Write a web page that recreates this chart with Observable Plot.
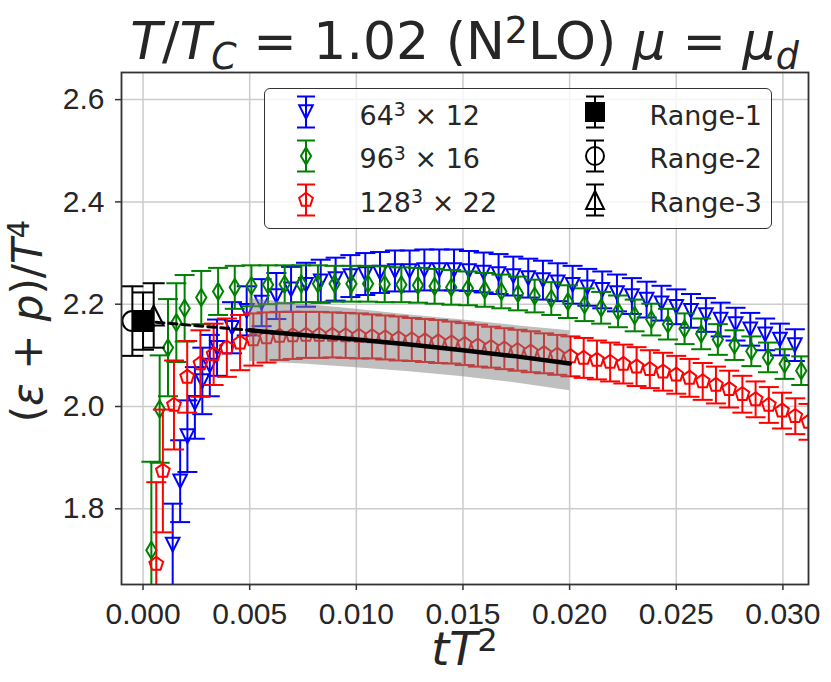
<!DOCTYPE html>
<html>
<head>
<meta charset="utf-8">
<script src="https://cdn.jsdelivr.net/npm/d3@7"></script>
<script src="https://cdn.jsdelivr.net/npm/@observablehq/plot@0.6"></script>
<style>
  html, body { margin: 0; padding: 0; background: white; }
  #fig { position: relative; width: 831px; height: 682px; font-family: "DejaVu Sans", sans-serif; color: #262626; overflow: hidden; }
  sup { font-size: 0.7em; vertical-align: baseline; position: relative; top: -0.45em; }
  sub { font-size: 0.7em; vertical-align: baseline; position: relative; top: 0.28em; }
  #title { position: absolute; top: 15px; left: 121px; width: 687px; text-align: center; font-size: 52px; line-height: 52px; white-space: nowrap; }
  #xlab { position: absolute; top: 631px; left: 121px; width: 687px; text-align: center; font-size: 46px; line-height: 36px; }
  #ylab { position: absolute; left: 30px; top: 321px; transform: translate(-50%, -50%) rotate(-90deg); font-size: 42px; line-height: 40px; white-space: nowrap; }
  #chart { position: absolute; top: 70px; left: 0; }
  #legend { position: absolute; left: 264px; top: 88px; width: 508px; height: 141px; border: 1.5px solid #333; border-radius: 6px; background: rgba(255,255,255,0.8); box-sizing: border-box; }
  .lt { position: absolute; font-size: 27px; line-height: 27px; white-space: nowrap; color: #262626; }
  .sw { position: absolute; width: 40px; height: 40px; }
</style>
</head>
<body>
<div id="fig">
  <div id="chart"></div>
  <div id="title"><i>T</i>/<i>T</i><sub><i>C</i></sub> = 1.02 (N<sup>2</sup>LO) <i>μ</i> = <i>μ</i><sub><i>d</i></sub></div>
  <div id="ylab">(<i>ε</i> + <i>p</i>)/<i>T</i><sup>4</sup></div>
  <div id="xlab"><i>tT</i><sup>2</sup></div>
  <div id="legend"></div>
</div>
<script>
// ---------------- data ----------------
const xTicks = [0, 0.005, 0.01, 0.015, 0.02, 0.025, 0.03];
const yTicks = [1.8, 2.0, 2.2, 2.4, 2.6];

// 64^3 x 12
const x64 = [0.00139,0.00174,0.00208,0.00243,0.00278,0.00313,0.00347,0.00417,0.00486,0.00556,0.00625,0.00694,0.00764,0.00833,0.00903,0.00972,0.01042,0.01111,0.01181,0.0125,0.01319,0.01389,0.01458,0.01528,0.01597,0.01667,0.01736,0.01806,0.01875,0.01944,0.02014,0.02083,0.02153,0.02222,0.02292,0.02361,0.02431,0.025,0.02569,0.02639,0.02708,0.02778,0.02847,0.02917,0.02986,0.03056];
const y64 = [1.730,1.854,1.942,2.007,2.050,2.080,2.115,2.154,2.187,2.203,2.216,2.229,2.238,2.245,2.249,2.255,2.259,2.262,2.265,2.265,2.267,2.267,2.267,2.265,2.262,2.259,2.255,2.251,2.247,2.243,2.238,2.233,2.228,2.222,2.216,2.209,2.202,2.195,2.187,2.179,2.170,2.161,2.151,2.141,2.131,2.120];
const e64 = [0.08,0.08,0.07,0.07,0.065,0.06,0.055,0.05,0.048,0.046,0.045,0.044,0.043,0.042,0.042,0.041,0.041,0.04,0.04,0.04,0.04,0.04,0.04,0.039,0.039,0.039,0.038,0.038,0.038,0.037,0.037,0.036,0.036,0.036,0.035,0.035,0.034,0.034,0.033,0.033,0.033,0.032,0.032,0.031,0.031,0.031];

// 96^3 x 16
const x96 = [0.00039,0.00078,0.00117,0.00156,0.00195,0.00273,0.00352,0.0043,0.00508,0.00586,0.00664,0.00742,0.0082,0.00898,0.00977,0.01055,0.01133,0.01211,0.01289,0.01367,0.01445,0.01523,0.01602,0.0168,0.01758,0.01836,0.01914,0.01992,0.0207,0.02148,0.02227,0.02305,0.02383,0.02461,0.02539,0.02617,0.02695,0.02773,0.02852,0.0293,0.03008,0.03086];
const y96 = [1.719,1.995,2.115,2.164,2.192,2.213,2.225,2.233,2.236,2.238,2.239,2.240,2.240,2.240,2.240,2.240,2.239,2.238,2.237,2.235,2.233,2.231,2.228,2.225,2.221,2.216,2.211,2.205,2.199,2.193,2.186,2.178,2.170,2.161,2.152,2.142,2.131,2.120,2.108,2.096,2.083,2.070];
const e96 = [0.173,0.105,0.095,0.077,0.065,0.052,0.046,0.042,0.04,0.038,0.037,0.036,0.036,0.035,0.035,0.035,0.035,0.034,0.034,0.034,0.034,0.033,0.033,0.033,0.033,0.032,0.032,0.032,0.032,0.031,0.031,0.031,0.031,0.03,0.03,0.03,0.03,0.029,0.029,0.029,0.029,0.028];

// 128^3 x 22
const x128 = [0.00062,0.00093,0.00145,0.00207,0.00269,0.00331,0.00393,0.00455,0.00517,0.00579,0.0064,0.00702,0.00764,0.00826,0.00888,0.0095,0.01012,0.01074,0.01136,0.01198,0.0126,0.01322,0.01384,0.01446,0.01508,0.0157,0.01632,0.01694,0.01756,0.01818,0.0188,0.01942,0.02004,0.02066,0.02128,0.0219,0.02252,0.02314,0.02376,0.02438,0.025,0.02562,0.02624,0.02686,0.02748,0.0281,0.02872,0.02934,0.02996,0.03058,0.0312];
const y128 = [1.692,1.874,2.003,2.058,2.084,2.102,2.115,2.125,2.131,2.135,2.138,2.139,2.140,2.140,2.140,2.139,2.138,2.137,2.135,2.133,2.131,2.129,2.127,2.125,2.122,2.119,2.116,2.113,2.110,2.107,2.104,2.101,2.098,2.095,2.091,2.087,2.083,2.078,2.073,2.068,2.062,2.056,2.049,2.042,2.034,2.024,2.014,2.003,1.992,1.981,1.970];
const e128 = [0.16,0.12,0.087,0.07,0.065,0.06,0.057,0.054,0.051,0.049,0.047,0.046,0.045,0.045,0.044,0.044,0.044,0.043,0.043,0.043,0.042,0.042,0.042,0.041,0.041,0.041,0.04,0.04,0.04,0.04,0.039,0.039,0.039,0.039,0.038,0.038,0.038,0.038,0.037,0.037,0.037,0.037,0.036,0.036,0.036,0.036,0.035,0.035,0.035,0.035,0.035];

// continuum-extrapolation fit and its band
const fitX = [0, 0.0025, 0.005, 0.0075, 0.01, 0.0125, 0.015, 0.0175, 0.02];
const fitY = [2.167, 2.158, 2.149, 2.140, 2.131, 2.121, 2.110, 2.098, 2.084];
const bandX = [0.005, 0.0075, 0.01, 0.0125, 0.015, 0.0175, 0.02];
const bandLo = [2.088, 2.083, 2.076, 2.068, 2.058, 2.046, 2.031];
const bandHi = [2.211, 2.200, 2.190, 2.179, 2.169, 2.158, 2.148];

// extrapolated values at tT^2 = 0
const rangeNames = ["Range-1", "Range-2", "Range-3"];
const rangeX = [0, -0.0005, 0.0005];
const rangeY = [2.167, 2.167, 2.178];
const rangeErr = [0.056, 0.068, 0.063];

// ---------------- symbols ----------------
const R = s => Math.sqrt(s / Math.PI);
const triDown = { draw(c, s) { const r = R(s); c.moveTo(-r, -r); c.lineTo(r, -r); c.lineTo(0, r); c.closePath(); } };
const triUp = { draw(c, s) { const r = R(s); c.moveTo(0, -r); c.lineTo(r, r); c.lineTo(-r, r); c.closePath(); } };
const thinDiamond = { draw(c, s) { const r = R(s); c.moveTo(0, -r); c.lineTo(0.6 * r, 0); c.lineTo(0, r); c.lineTo(-0.6 * r, 0); c.closePath(); } };
const pentagon = { draw(c, s) { const r = R(s); for (let k = 0; k < 5; k++) { const a = -Math.PI / 2 + k * 2 * Math.PI / 5; const px = r * Math.cos(a), py = r * Math.sin(a); k ? c.lineTo(px, py) : c.moveTo(px, py); } c.closePath(); } };
const square = { draw(c, s) { const r = R(s); c.rect(-r, -r, 2 * r, 2 * r); } };
const circle = { draw(c, s) { const r = R(s); c.moveTo(r, 0); c.arc(0, 0, r, 0, 2 * Math.PI); } };
const cap = { draw(c, s) { const r = R(s); c.moveTo(-r, 0); c.lineTo(r, 0); } };

function rows(xs, ys, es) { return xs.map((x, i) => ({ x, y: ys[i], lo: ys[i] - es[i], hi: ys[i] + es[i] })); }

function errMarks(data, color, sym, r, capR, fill) {
  return [
    Plot.ruleX(data, { x: "x", y1: "lo", y2: "hi", stroke: color, strokeWidth: 2, clip: true }),
    Plot.dot(data, { x: "x", y: "hi", symbol: cap, r: capR, stroke: color, strokeWidth: 2, fill: "none", clip: true }),
    Plot.dot(data, { x: "x", y: "lo", symbol: cap, r: capR, stroke: color, strokeWidth: 2, fill: "none", clip: true }),
    Plot.dot(data, { x: "x", y: "y", symbol: sym, r, stroke: color, strokeWidth: 2, fill: fill || "none", clip: true })
  ];
}

const d64 = rows(x64, y64, e64);
const d96 = rows(x96, y96, e96);
const d128 = rows(x128, y128, e128);
const band = bandX.map((x, i) => ({ x, lo: bandLo[i], hi: bandHi[i] }));
const fit = fitX.map((x, i) => ({ x, y: fitY[i] }));
const ranges = rangeNames.map((n, i) => [{ x: rangeX[i], y: rangeY[i], lo: rangeY[i] - rangeErr[i], hi: rangeY[i] + rangeErr[i] }]);

const chart = Plot.plot({
  width: 831,
  height: 612,
  marginTop: 2,
  marginLeft: 121,
  marginRight: 23,
  marginBottom: 98,
  x: { domain: [-0.00101, 0.0312] },
  y: { domain: [1.652, 2.653] },
  style: { fontFamily: "Liberation Sans, Arial, sans-serif", fontSize: "30px", color: "#262626", background: "white", overflow: "visible" },
  marks: [
    Plot.gridX(xTicks, { stroke: "#cccccc", strokeOpacity: 1, strokeWidth: 1.5 }),
    Plot.gridY(yTicks, { stroke: "#cccccc", strokeOpacity: 1, strokeWidth: 1.5 }),
    ...errMarks(d64, "#0000ff", triDown, 6.8, 10),
    ...errMarks(d96, "#008000", thinDiamond, 8.5, 10),
    ...errMarks(d128, "#ff0000", pentagon, 7.2, 10),
    Plot.areaY(band, { x: "x", y1: "lo", y2: "hi", fill: "gray", fillOpacity: 0.5 }),
    Plot.line(fit.filter(d => d.x <= 0.005), { x: "x", y: "y", stroke: "black", strokeWidth: 3, strokeDasharray: "8,5" }),
    Plot.line(fit.filter(d => d.x >= 0.005), { x: "x", y: "y", stroke: "black", strokeWidth: 4.5 }),
    ...errMarks(ranges[1], "black", circle, 10, 11),
    ...errMarks(ranges[2], "black", triUp, 10, 11),
    ...errMarks(ranges[0], "black", square, 10, 11, "black"),
    Plot.frame({ stroke: "#333", strokeWidth: 1.8 }),
    Plot.axisX(xTicks, { tickFormat: ".3f", tickSize: 6, tickPadding: 12, label: null, stroke: "#333", strokeWidth: 1.5 }),
    Plot.axisY(yTicks, { tickFormat: ".1f", tickSize: 6, tickPadding: 11, label: null, stroke: "#333", strokeWidth: 1.5 })
  ]
});
document.getElementById("chart").appendChild(chart);

// ---------------- legend ----------------
function swatchSVG(sym, color, r, fill) {
  const path = d3.path();
  sym.draw(path, Math.PI * r * r);
  return `<svg class="sw" viewBox="-20 -20 40 40" width="40" height="40">
    <line x1="0" y1="-15.5" x2="0" y2="15.5" stroke="${color}" stroke-width="2"/>
    <line x1="-9" y1="-15.5" x2="9" y2="-15.5" stroke="${color}" stroke-width="2"/>
    <line x1="-9" y1="15.5" x2="9" y2="15.5" stroke="${color}" stroke-width="2"/>
    <path d="${path.toString()}" stroke="${color}" stroke-width="2" fill="${fill || 'none'}"/>
  </svg>`;
}
const legendItems = [
  { col: 0, row: 0, html: "64<sup>3</sup> × 12", sym: triDown, color: "#0000ff", r: 6.8 },
  { col: 0, row: 1, html: "96<sup>3</sup> × 16", sym: thinDiamond, color: "#008000", r: 8.5 },
  { col: 0, row: 2, html: "128<sup>3</sup> × 22", sym: pentagon, color: "#ff0000", r: 7.2 },
  { col: 1, row: 0, html: rangeNames[0], sym: square, color: "black", r: 9, fill: "black" },
  { col: 1, row: 1, html: rangeNames[1], sym: circle, color: "black", r: 9 },
  { col: 1, row: 2, html: rangeNames[2], sym: triUp, color: "black", r: 9 }
];
const leg = document.getElementById("legend");
const rowCenter = [24.3, 68.5, 112];
const rowBase = [37, 80.5, 124];
const swX = [42, 331], txX = [96, 386];
for (const it of legendItems) {
  const w = document.createElement("div");
  w.innerHTML = swatchSVG(it.sym, it.color, it.r, it.fill);
  const s = w.firstElementChild;
  s.style.left = (swX[it.col] - 20 - 1.5) + "px";
  s.style.top = (rowCenter[it.row] - 20 - 1.5) + "px";
  leg.appendChild(s);
  const t = document.createElement("div");
  t.className = "lt";
  t.innerHTML = it.html;
  t.style.left = (txX[it.col] - 1.5) + "px";
  // DejaVu baseline offset for line-height = font-size: ~0.85em
  t.style.top = (rowBase[it.row] - 0.85 * 27 - 1.5) + "px";
  leg.appendChild(t);
}
</script>
</body>
</html>
